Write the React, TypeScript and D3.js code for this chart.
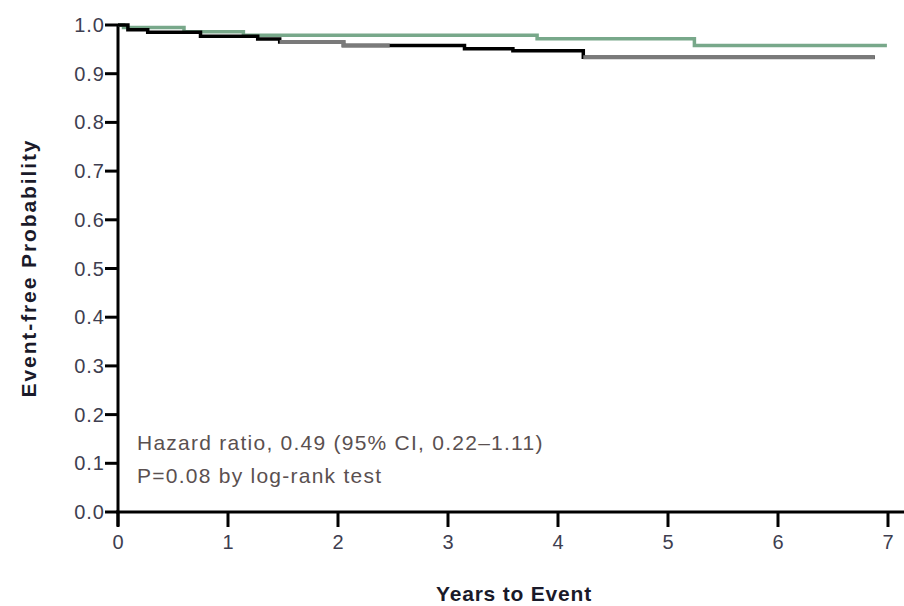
import { useRef, useEffect } from "react";
import * as d3 from "d3";

// upper curve (green)
const greenTimes = [0, 0.05, 0.6, 1.14, 3.81, 5.24, 6.99];
const greenValues = [1.0, 0.995, 0.986, 0.979, 0.972, 0.958, 0.958];

// lower curve, drawn black in some stretches and grey in others
const darkTimes = [0, 0.09, 0.27, 0.75, 1.27, 1.47, 2.05, 2.47, 3.15, 3.59, 4.23, 6.88];
const darkValues = [1.0, 0.99, 0.985, 0.977, 0.971, 0.965, 0.958, 0.958, 0.951, 0.947, 0.934, 0.934];
const greyStretches = [
  [1.47, 2.47],
  [4.23, 6.88],
];

const yTicks = [0, 0.1, 0.2, 0.3, 0.4, 0.5, 0.6, 0.7, 0.8, 0.9, 1.0];
const xTicks = [0, 1, 2, 3, 4, 5, 6, 7];
const notes = ["Hazard ratio, 0.49 (95% CI, 0.22\u20131.11)", "P=0.08 by log-rank test"];

const KMChart = () => {
  const svgRef = useRef(null);

  useEffect(() => {
    d3.select(svgRef.current).selectAll("*").remove();

    const width = 904;
    const height = 606;
    const svg = d3.select(svgRef.current).attr("width", width).attr("height", height);

    const x = d3.scaleLinear().domain([0, 7]).range([118, 888]);
    const y = d3.scaleLinear().domain([0, 1]).range([512, 25]);

    svg.append("rect").attr("width", width).attr("height", height).attr("fill", "white");

    const font = "'Liberation Sans', Arial, sans-serif";

    // axes
    svg
      .append("line")
      .attr("x1", x(0))
      .attr("x2", x(0))
      .attr("y1", y(1) - 1)
      .attr("y2", 526)
      .attr("stroke", "black")
      .attr("stroke-width", 3);
    svg
      .append("line")
      .attr("x1", x(0) - 2)
      .attr("x2", width)
      .attr("y1", y(0))
      .attr("y2", y(0))
      .attr("stroke", "black")
      .attr("stroke-width", 3);

    svg
      .selectAll(".ytick")
      .data(yTicks)
      .enter()
      .append("line")
      .attr("x1", x(0) - 13)
      .attr("x2", x(0))
      .attr("y1", (d) => y(d))
      .attr("y2", (d) => y(d))
      .attr("stroke", "black")
      .attr("stroke-width", 3);

    svg
      .selectAll(".ylab")
      .data(yTicks)
      .enter()
      .append("text")
      .attr("x", 105)
      .attr("y", (d) => y(d) + 7)
      .attr("text-anchor", "end")
      .style("font-family", font)
      .style("font-size", "20px")
      .style("letter-spacing", "1px")
      .attr("fill", "#3e3e50")
      .text((d) => d.toFixed(1));

    svg
      .selectAll(".xtick")
      .data(xTicks)
      .enter()
      .append("line")
      .attr("x1", (d) => x(d))
      .attr("x2", (d) => x(d))
      .attr("y1", y(0))
      .attr("y2", 527)
      .attr("stroke", "black")
      .attr("stroke-width", 3);

    svg
      .selectAll(".xlab")
      .data(xTicks)
      .enter()
      .append("text")
      .attr("x", (d) => x(d))
      .attr("y", 549)
      .attr("text-anchor", "middle")
      .style("font-family", font)
      .style("font-size", "20px")
      .attr("fill", "#3e3e50")
      .text((d) => d);

    // axis titles
    svg
      .append("text")
      .attr("transform", `translate(36,268) rotate(-90)`)
      .attr("text-anchor", "middle")
      .style("font-family", font)
      .style("font-size", "21px")
      .style("font-weight", "bold")
      .style("letter-spacing", "1.9px")
      .attr("fill", "#1a1a2a")
      .text("Event-free Probability");

    svg
      .append("text")
      .attr("x", 514)
      .attr("y", 601)
      .attr("text-anchor", "middle")
      .style("font-family", font)
      .style("font-size", "21px")
      .style("font-weight", "bold")
      .style("letter-spacing", "0.8px")
      .attr("fill", "#1a1a2a")
      .text("Years to Event");

    // annotation
    svg
      .selectAll(".note")
      .data(notes)
      .enter()
      .append("text")
      .attr("x", 137)
      .attr("y", (d, i) => 450 + i * 33)
      .style("font-family", font)
      .style("font-size", "21px")
      .style("letter-spacing", "1.25px")
      .attr("fill", "#5a5050")
      .text((d) => d);

    const line = d3
      .line()
      .x((d) => x(d[0]))
      .y((d) => y(d[1]))
      .curve(d3.curveStepAfter);

    const greenPts = greenTimes.map((t, i) => [t, greenValues[i]]);
    const darkPts = darkTimes.map((t, i) => [t, darkValues[i]]);

    svg
      .append("path")
      .attr("d", line(greenPts))
      .attr("fill", "none")
      .attr("stroke", "#78a88a")
      .attr("stroke-width", 3.5);

    svg
      .append("path")
      .attr("d", line(darkPts))
      .attr("fill", "none")
      .attr("stroke", "black")
      .attr("stroke-width", 3.5);

    // grey stretches of the lower curve
    greyStretches.forEach(([a, b]) => {
      const pts = darkPts.filter((p) => p[0] >= a && p[0] <= b);
      const last = pts[pts.length - 1];
      if (last[0] < b) pts.push([b, last[1]]);
      svg
        .append("path")
        .attr("d", line(pts))
        .attr("fill", "none")
        .attr("stroke", "#7a7a7a")
        .attr("stroke-width", 4);
    });
  }, []);

  return (
    <div style={{ position: "absolute", left: 0, top: 0 }}>
      <svg ref={svgRef} style={{ display: "block" }}></svg>
    </div>
  );
};

export default function App() {
  return <KMChart />;
}
